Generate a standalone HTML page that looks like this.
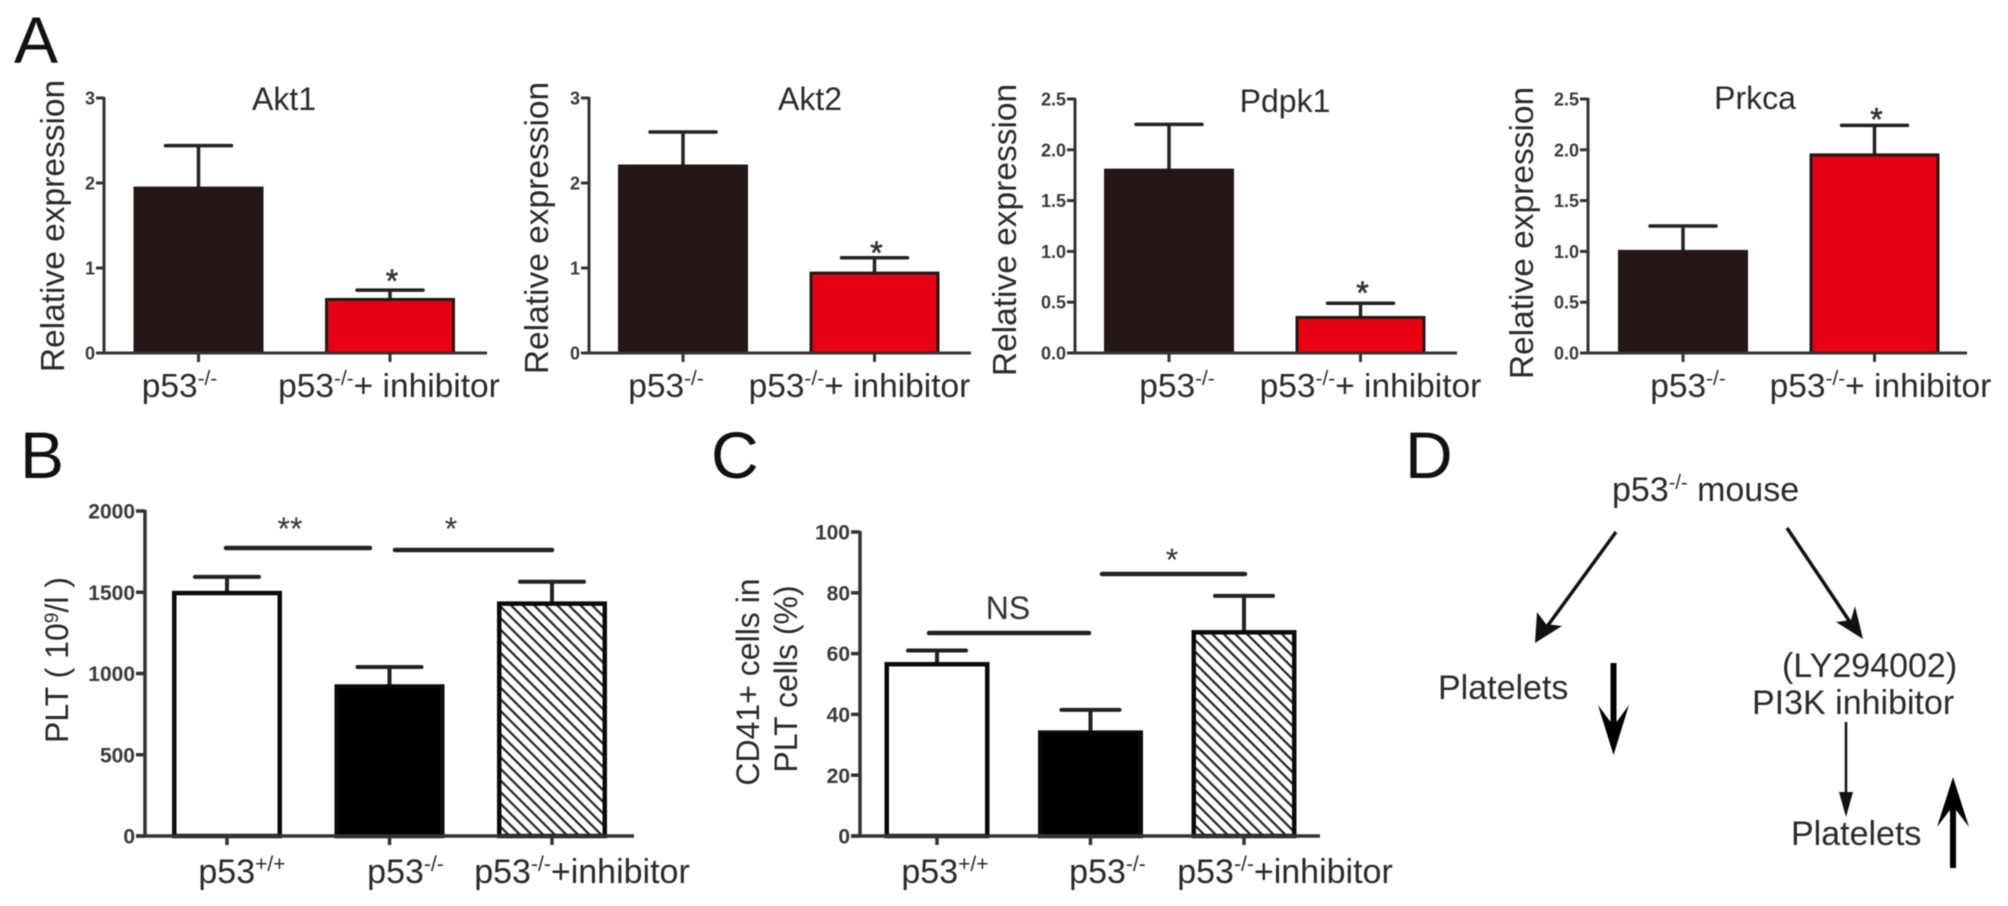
<!DOCTYPE html>
<html lang="en">
<head>
<meta charset="utf-8">
<title>p53 knockout expression and platelet figure</title>
<style>
html,body{margin:0;padding:0;background:#fff;width:2008px;height:906px;overflow:hidden}
svg{display:block;font-family:"Liberation Sans",sans-serif;filter:blur(0.6px)}
</style>
</head>
<body>
<svg id="figure" width="2008" height="906" viewBox="0 0 2008 906" xmlns="http://www.w3.org/2000/svg">
  <defs>
    <pattern id="hatch" width="8.2" height="8.2" patternUnits="userSpaceOnUse" patternTransform="rotate(45)">
      <rect width="8.2" height="2.2" fill="#222"></rect>
    </pattern>
  </defs>
  <rect width="2008" height="906" fill="#fff"></rect>

  <g fill="#111" font-size="66">
    <text x="14" y="63">A</text>
    <text x="20" y="478">B</text>
    <text x="711" y="478">C</text>
    <text x="1405" y="478">D</text>
  </g>

  <g id="panels"></g>

  <g fill="#2a2a2a" font-size="34">
    <text x="1612" y="501">p53<tspan font-size="20" dy="-12">-/-</tspan><tspan dy="12"> mouse</tspan></text>
    <text x="1438" y="699">Platelets</text>
    <text x="1782" y="677">(LY294002)</text>
    <text x="1752" y="714">PI3K inhibitor</text>
    <text x="1791" y="845">Platelets</text>

    <g>
      <line x1="1616" y1="532" x2="1546" y2="628" stroke="#111" stroke-width="3.5"></line>
      <polygon points="1535,643 1537,612 1546,624 1562,626" fill="#111"></polygon>
    </g>
    <g>
      <line x1="1787" y1="528" x2="1852" y2="625" stroke="#111" stroke-width="3.5"></line>
      <polygon points="1863,639 1836,622 1851,620 1855,606" fill="#111"></polygon>
    </g>
    <g>
      <line x1="1846" y1="722" x2="1846" y2="800" stroke="#111" stroke-width="2.5"></line>
      <polygon points="1846,817 1839,792 1853,792" fill="#111"></polygon>
    </g>
    <g>
      <line x1="1613.5" y1="663" x2="1613.5" y2="745" stroke="#000" stroke-width="6"></line>
      <polygon points="1613.5,755 1598,705 1613.5,726 1629,705" fill="#000"></polygon>
    </g>
    <g>
      <line x1="1953" y1="868" x2="1953" y2="786" stroke="#000" stroke-width="6"></line>
      <polygon points="1953,777 1937,827 1953,806 1969,827" fill="#000"></polygon>
    </g>
  </g>
</svg>
<script>
const SVG_NS = 'http://www.w3.org/2000/svg';

// ---- Chart data ----
const geneCategories = ['p53^-/-', 'p53^-/-^+ inhibitor'];
const plateletCategories = ['p53^+/+', 'p53^-/-', 'p53^-/-^+inhibitor'];

const akt1Values = [1.94, 0.63];
const akt1Errors = [0.50, 0.11];
const akt1Ticks = ['0', '1', '2', '3'];

const akt2Values = [2.20, 0.94];
const akt2Errors = [0.40, 0.18];
const akt2Ticks = ['0', '1', '2', '3'];

const pdpk1Values = [1.80, 0.35];
const pdpk1Errors = [0.45, 0.14];
const pdpk1Ticks = ['0.0', '0.5', '1.0', '1.5', '2.0', '2.5'];

const prkcaValues = [1.00, 1.95];
const prkcaErrors = [0.25, 0.29];
const prkcaTicks = ['0.0', '0.5', '1.0', '1.5', '2.0', '2.5'];

const pltValues = [1495, 920, 1430];
const pltErrors = [100, 120, 135];
const pltTicks = ['0', '500', '1000', '1500', '2000'];

const cd41Values = [56.5, 34, 67];
const cd41Errors = [4.5, 7.5, 12];
const cd41Ticks = ['0', '20', '40', '60', '80', '100'];

// ---- Drawing helpers ----
const root = document.getElementById('panels');

function make(tag, attrs, parent) {
  const el = document.createElementNS(SVG_NS, tag);
  for (const k in attrs) el.setAttribute(k, attrs[k]);
  parent.appendChild(el);
  return el;
}

function richText(el, str, supSize, supRise) {
  const parts = str.split('^');
  parts.forEach(function (part, i) {
    const isSup = i % 2 === 1;
    const t = document.createElementNS(SVG_NS, 'tspan');
    t.textContent = part;
    if (isSup) {
      t.setAttribute('font-size', supSize);
      t.setAttribute('dy', -supRise);
    } else if (i > 0) {
      t.setAttribute('dy', supRise);
    }
    el.appendChild(t);
  });
}

function drawChart(o) {
  const g = make('g', {}, root);
  
  

  const maxTick = parseFloat(o.ticks[o.ticks.length - 1]);
  const yScale = function (v) { return o.y0 - (v / maxTick) * (o.y0 - o.yTop); };
  const xScale = function (i) { return o.c0 + i * o.step; };

  // y axis line
  const yAxis = make('line', { x1: o.axisX, x2: o.axisX, y1: o.yTop - 1, y2: o.y0 + 1, stroke: '#333', 'stroke-width': o.axisWidth }, g);
  
  

  // y ticks and tick labels
  o.ticks.forEach(function (label) {
    const v = parseFloat(label);
    const tick = make('line', { x1: o.axisX - o.tickLen, x2: o.axisX, y1: yScale(v), y2: yScale(v), stroke: '#333', 'stroke-width': o.axisWidth }, g);
    
    
    const txt = make('text', { x: o.axisX - o.tickLen - 1, y: yScale(v) + o.tickFont * 0.36, 'text-anchor': 'end', 'font-size': o.tickFont, 'font-weight': 'bold', fill: '#3a3a3a' }, g);
    
    
    txt.textContent = label;
  });

  // bars and error bars
  o.values.forEach(function (value, i) {
    const cx = xScale(i);
    const topV = value + o.errors[i];
    const errLine = make('line', { x1: cx, x2: cx, y1: yScale(value), y2: yScale(topV), stroke: '#222', 'stroke-width': o.errWidth }, g);
    
    
    const cap = make('line', { x1: cx - o.capHalf, x2: cx + o.capHalf, y1: yScale(topV), y2: yScale(topV), stroke: '#222', 'stroke-width': o.errWidth, 'stroke-linecap': 'round' }, g);
    
    
    const sw = o.barStroke;
    const bar = make('rect', { x: cx - o.barW / 2 + sw / 2, y: yScale(value), width: o.barW - sw, height: o.y0 - yScale(value), fill: o.fills[i], stroke: o.barEdge, 'stroke-width': sw }, g);
    
    
  });

  // x axis line and ticks
  const xAxis = make('line', { x1: o.axisX - o.tickLen, x2: o.xEnd, y1: o.y0, y2: o.y0, stroke: '#333', 'stroke-width': o.axisWidth }, g);
  
  

  o.categories.forEach(function (label, i) {
    const cx = xScale(i);
    const tick = make('line', { x1: cx, x2: cx, y1: o.y0, y2: o.y0 + 9, stroke: '#333', 'stroke-width': o.axisWidth }, g);
    
    
    const txt = make('text', { x: cx + o.labelDx[i], y: o.labelY, 'text-anchor': 'middle', 'font-size': o.labelFont, fill: '#2a2a2a' }, g);
    
    
    richText(txt, label, o.labelFont * 0.62, 12);
  });

  // title
  if (o.title) {
    const title = make('text', { x: o.titleX, y: o.titleY, 'text-anchor': 'middle', 'font-size': 32, fill: '#2a2a2a' }, g);
    
    
    title.textContent = o.title;
  }

  // y axis title lines
  o.yTitles.forEach(function (t) {
    const yt = make('text', { transform: 'translate(' + t.x + ' ' + t.y + ') rotate(-90)', 'text-anchor': 'middle', 'font-size': o.yTitleFont, fill: '#2a2a2a' }, g);
    
    
    richText(yt, t.text, o.yTitleFont * 0.6, 10);
  });

  // significance star over a bar
  if (o.starIndex !== undefined) {
    const i = o.starIndex;
    const sy = yScale(o.values[i] + o.errors[i]) - o.starGap;
    const star = make('text', { x: xScale(i) + 2, y: sy + 17, 'text-anchor': 'middle', 'font-size': 32, fill: '#333', stroke: '#333', 'stroke-width': 0.6 }, g);
    
    
    star.textContent = '*';
  }

  // significance brackets
  (o.brackets || []).forEach(function (b) {
    const line = make('line', { x1: b.x1, x2: b.x2, y1: b.y, y2: b.y, stroke: '#222', 'stroke-width': 4.5, 'stroke-linecap': 'round' }, g);
    
    
    const lab = make('text', { x: b.labelX, y: b.labelY, 'text-anchor': 'middle', 'font-size': b.size, fill: '#333' }, g);
    
    
    lab.textContent = b.label;
  });
}

const geneStyle = {
  y0: 353, tickLen: 8, tickFont: 18, axisWidth: 3, errWidth: 3.5, barStroke: 3, barEdge: '#231815',
  barW: 130, capHalf: 33, labelY: 397, labelFont: 33.5, yTitleFont: 33.5, step: 191.5,
  fills: ['#231815', '#e60012'], categories: geneCategories
};
const plateletStyle = {
  y0: 836, tickLen: 9, axisWidth: 3.5, errWidth: 4, barStroke: 4.5, barEdge: '#0a0a0a',
  labelY: 883, labelFont: 34, yTitleFont: 32,
  fills: ['#ffffff', '#000000', 'url(#hatch)'], categories: plateletCategories
};

drawChart(Object.assign({}, geneStyle, {
  name: 'akt1', title: 'Akt1', titleX: 284, titleY: 110, values: akt1Values, errors: akt1Errors, ticks: akt1Ticks,
  axisX: 104, yTop: 98, xEnd: 487, c0: 198.5, labelDx: [-19, -1], starIndex: 1, starGap: 15,
  yTitles: [{ x: 64, y: 226, text: 'Relative expression' }]
}));
drawChart(Object.assign({}, geneStyle, {
  name: 'akt2', title: 'Akt2', titleX: 810, titleY: 110, values: akt2Values, errors: akt2Errors, ticks: akt2Ticks,
  axisX: 589, yTop: 98, xEnd: 971, c0: 683, labelDx: [-17, -15], starIndex: 1, starGap: 11,
  yTitles: [{ x: 548, y: 228, text: 'Relative expression' }]
}));
drawChart(Object.assign({}, geneStyle, {
  name: 'pdpk1', title: 'Pdpk1', titleX: 1285, titleY: 112, values: pdpk1Values, errors: pdpk1Errors, ticks: pdpk1Ticks,
  axisX: 1075, yTop: 99, xEnd: 1457, c0: 1169, labelDx: [8, 10], starIndex: 1, starGap: 16,
  yTitles: [{ x: 1016, y: 230, text: 'Relative expression' }]
}));
drawChart(Object.assign({}, geneStyle, {
  name: 'prkca', title: 'Prkca', titleX: 1755, titleY: 109, values: prkcaValues, errors: prkcaErrors, ticks: prkcaTicks,
  axisX: 1588, yTop: 99, xEnd: 1967, c0: 1683, labelDx: [5, 6], starIndex: 1, starGap: 12,
  yTitles: [{ x: 1533, y: 233, text: 'Relative expression' }]
}));
drawChart(Object.assign({}, plateletStyle, {
  name: 'plt', values: pltValues, errors: pltErrors, ticks: pltTicks,
  axisX: 145, yTop: 511, xEnd: 634, c0: 227, step: 162.5, barW: 110, capHalf: 32, tickFont: 21,
  labelDx: [15, 16, 30],
  yTitles: [{ x: 68, y: 660, text: 'PLT ( 10^9^/l  )' }],
  brackets: [
    { x1: 226, x2: 370, y: 548, label: '**', labelX: 290, labelY: 540, size: 32 },
    { x1: 395, x2: 552, y: 550, label: '*', labelX: 451, labelY: 540, size: 32 }
  ]
}));
drawChart(Object.assign({}, plateletStyle, {
  name: 'cd41', values: cd41Values, errors: cd41Errors, ticks: cd41Ticks,
  axisX: 860, yTop: 532, xEnd: 1320, c0: 937, step: 153.5, barW: 105, capHalf: 29, tickFont: 21,
  labelDx: [8, 17, 41],
  yTitles: [
    { x: 759, y: 682, text: 'CD41+ cells in' },
    { x: 797, y: 679, text: 'PLT cells (%)' }
  ],
  brackets: [
    { x1: 929, x2: 1089, y: 633, label: 'NS', labelX: 1008, labelY: 619, size: 32 },
    { x1: 1102, x2: 1245, y: 574, label: '*', labelX: 1172, labelY: 571, size: 32 }
  ]
}));
</script>
</body>
</html>
